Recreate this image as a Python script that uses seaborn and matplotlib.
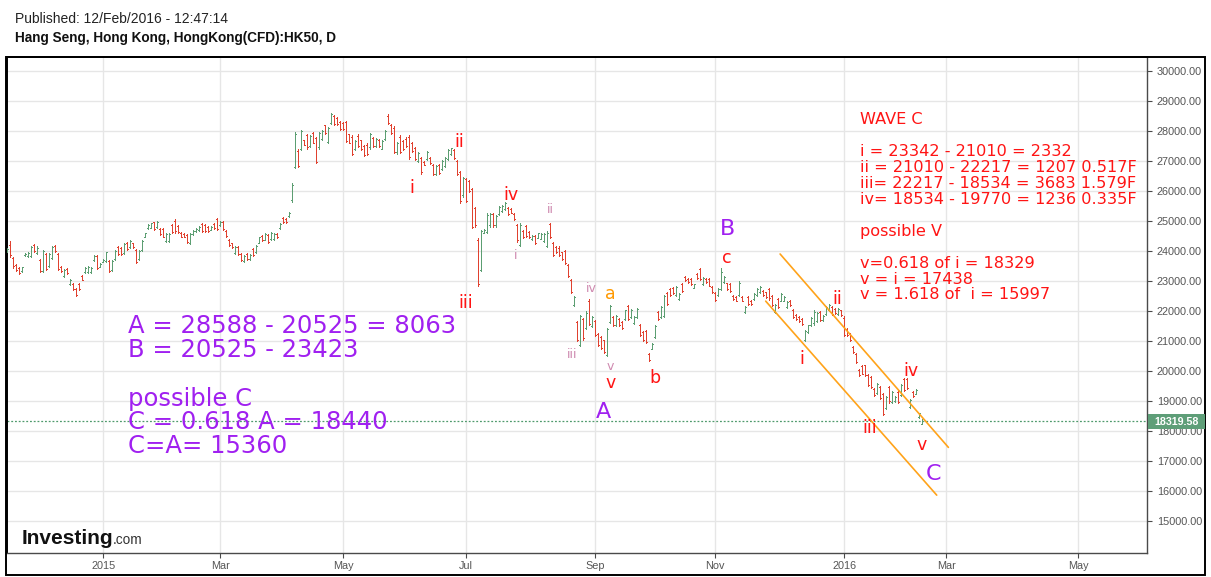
import numpy as np
import pandas as pd
import matplotlib
matplotlib.use("Agg")
import matplotlib.pyplot as plt
import seaborn as sns
from matplotlib.patches import Rectangle

# ---------------- data (daily OHLC, HK50 CFD, Nov 2014 - 12 Feb 2016) ----------------
opens = [
    23980, 24200, 23750, 23520, 23440, 23320, 23850, 23830, 23820, 24180,
    23920, 23680, 23330, 23880, 23500, 23760, 24150, 23880, 23470, 23170,
    23390, 22890, 22890, 22720, 22890, 23170, 23280, 23300, 23290, 23690,
    23820, 23470, 23620, 23650, 23660, 23360, 23720, 24110, 24090, 23910,
    24270, 24130, 24240, 24020, 23720, 24030, 24470, 24740, 24770, 24940,
    24780, 24720, 24720, 24330, 24330, 24850, 25000, 24830, 24590, 24560,
    24520, 24250, 24540, 24650, 24680, 24880, 24850, 24800, 24700, 24900,
    25040, 24840, 24960, 24660, 24350, 24240, 23910, 24110, 23890, 23660,
    23890, 23710, 24050, 23950, 24270, 24490, 24370, 24520, 24390, 24380,
    24550, 24740, 25100, 25050, 25150, 25680, 26800, 27330, 27400, 27680,
    27860, 27490, 27920, 27750, 27440, 27730, 28170, 27620, 28260, 28480,
    28420, 28290, 28260, 28280, 27870, 27800, 27380, 27830, 27670, 27480,
    27530, 27440, 27750, 27490, 27700, 27400, 27710, 28500, 28180, 28100,
    27270, 27800, 27660, 27730, 27800, 27590, 27420, 26990, 27080, 26970,
    27040, 27100, 26870, 26550, 26870, 26710, 26820, 27040, 27210, 27340,
    26980, 26620, 25840, 26390, 26320, 26060, 25430, 24370, 23350, 24600,
    24620, 24840, 25210, 24840, 25220, 25320, 25380, 25430, 25390, 25220,
    24850, 24180, 24660, 24820, 24630, 24380, 24500, 24430, 24400, 24330,
    24150, 24890, 24260, 24110, 24100, 23940, 23990, 23530, 23010, 22180,
    21610, 20870, 21720, 21430, 22340, 21490, 21660, 21230, 21120, 21010,
    20540, 21630, 21780, 21510, 21730, 21620, 21730, 22160, 21790, 21600,
    21790, 21530, 21290, 21340, 20570, 20730, 21130, 21950, 21790, 21830,
    22580, 22720, 22760, 22510, 22390, 22890, 23130, 23060, 23060, 22770,
    23220, 23380, 22900, 23060, 23060, 22800, 22580, 22530, 22740, 22970,
    22910, 22890, 22500, 22450, 22520, 22470, 21960, 22450, 22340, 22400,
    22530, 22610, 22670, 22610, 22710, 22500, 21960, 22390, 22340, 22330,
    22110, 22340, 22030, 21870, 21780, 21730, 21030, 21290, 21510, 21580,
    21650, 21950, 21680, 21900, 22010, 22120, 22060, 21900, 22010, 21770,
    21400, 21230, 20790, 20550, 20020, 20150, 20180, 19850, 19790, 19410,
    19250, 19460, 19230, 18760, 19450, 18970, 18980, 19300, 19190, 19730,
    19740, 18800, 19300, 19240, 18460, 18240,
]
highs = [
    24080, 24330, 23780, 23550, 23470, 23470, 23920, 23940, 24160, 24210,
    24140, 23720, 24030, 23920, 23920, 24170, 24180, 23920, 23500, 23400,
    23420, 23050, 22920, 22750, 22920, 23200, 23470, 23480, 23470, 23840,
    23860, 23580, 23720, 23970, 23690, 23690, 24030, 24140, 24120, 24250,
    24300, 24340, 24270, 24050, 24030, 24360, 24600, 24880, 24930, 24970,
    24990, 24750, 24750, 24600, 24580, 24880, 25040, 24860, 24610, 24580,
    24550, 24600, 24690, 24750, 24820, 24910, 24880, 24820, 24820, 24930,
    25080, 24990, 24990, 24690, 24380, 24270, 24160, 24140, 23920, 23860,
    23920, 23880, 24080, 24180, 24470, 24520, 24580, 24550, 24610, 24600,
    24580, 24910, 25130, 25080, 25280, 26240, 27950, 27370, 28030, 27700,
    27900, 27840, 27950, 27790, 27950, 28030, 28200, 28120, 28590, 28510,
    28450, 28320, 28290, 28310, 27900, 27840, 27680, 27870, 27700, 27510,
    27570, 27930, 27790, 27750, 27730, 27700, 28010, 28540, 28210, 28140,
    27620, 27840, 27700, 27770, 27840, 27620, 27460, 27290, 27120, 26990,
    27320, 27120, 26900, 26850, 26900, 27010, 27120, 27370, 27430, 27370,
    27010, 26660, 26460, 26430, 26350, 26100, 25470, 24410, 24690, 24710,
    25240, 25270, 25240, 25190, 25490, 25520, 25630, 25470, 25410, 25240,
    24890, 24910, 24690, 24860, 24660, 24530, 24530, 24600, 24580, 24580,
    24640, 24930, 24300, 24140, 24140, 23970, 24030, 23560, 23050, 22500,
    21650, 21870, 21760, 21980, 22390, 21810, 21700, 21260, 21150, 21040,
    21430, 22200, 21810, 21870, 21760, 21650, 22040, 22200, 22060, 21810,
    22090, 21560, 21320, 21370, 20600, 20930, 21540, 21980, 22150, 22530,
    22610, 22750, 22790, 22810, 22590, 22920, 23160, 23090, 23090, 22900,
    23250, 23420, 23120, 23090, 23090, 22830, 22610, 22750, 23420, 23160,
    22940, 22920, 22530, 22480, 22980, 22500, 22150, 22480, 22370, 22590,
    22750, 22810, 22700, 22640, 22750, 22530, 22230, 22420, 22590, 22480,
    22310, 22370, 22060, 21900, 21810, 21760, 21370, 21540, 21790, 22010,
    21950, 21980, 21870, 22150, 22220, 22150, 22090, 22090, 22040, 21810,
    21430, 21260, 20820, 20580, 20050, 20180, 20210, 19880, 19820, 19440,
    19600, 19490, 19270, 19160, 19490, 19330, 19160, 19330, 19550, 19770,
    19770, 19050, 19330, 19380, 18610, 18390,
]
lows = [
    23950, 23780, 23440, 23330, 23220, 23300, 23830, 23800, 23780, 23970,
    23880, 23290, 23290, 23360, 23470, 23720, 23950, 23360, 23290, 23140,
    23220, 22870, 22700, 22500, 22700, 23010, 23250, 23260, 23270, 23670,
    23400, 23450, 23610, 23620, 23290, 23330, 23690, 23860, 23860, 23880,
    24030, 24100, 24080, 23580, 23690, 24000, 24450, 24720, 24750, 24690,
    24760, 24520, 24440, 24300, 24300, 24580, 24600, 24580, 24450, 24440,
    24250, 24210, 24520, 24630, 24660, 24630, 24630, 24630, 24690, 24710,
    24690, 24820, 24690, 24450, 24160, 24080, 23880, 23860, 23660, 23640,
    23690, 23690, 23810, 23920, 24250, 24330, 24340, 24270, 24360, 24350,
    24410, 24720, 24910, 24910, 25130, 25630, 26740, 26790, 27350, 27510,
    27400, 27460, 27570, 26930, 27400, 27700, 27900, 27590, 28230, 28180,
    28200, 28010, 28010, 27620, 27570, 27180, 27350, 27460, 27350, 27150,
    27180, 27400, 27460, 27460, 27460, 27370, 27680, 28210, 27900, 27260,
    27230, 27260, 27350, 27460, 27070, 27290, 27010, 26960, 26570, 26850,
    27010, 26900, 26520, 26520, 26570, 26680, 26790, 27010, 27180, 27070,
    26520, 25600, 25800, 25630, 25960, 24750, 24800, 22830, 23310, 24580,
    24580, 24800, 24800, 24800, 25190, 25300, 25350, 25190, 25240, 25020,
    24300, 24140, 24410, 24470, 24410, 24360, 24230, 24410, 24380, 24300,
    24120, 24410, 23810, 23920, 23810, 23700, 23560, 23120, 22590, 22150,
    20990, 20820, 21040, 21390, 21510, 21460, 21150, 20820, 20710, 20600,
    20490, 21590, 21480, 21480, 21480, 21390, 21700, 21700, 21760, 21570,
    21760, 21150, 20990, 20930, 20320, 20710, 21100, 21700, 21760, 21790,
    22200, 22500, 22570, 22480, 22370, 22640, 22980, 22920, 22870, 22750,
    23050, 23030, 22870, 22940, 22810, 22590, 22330, 22500, 22700, 22940,
    22700, 22640, 22370, 22310, 22480, 22310, 21930, 22200, 22200, 22370,
    22500, 22590, 22480, 22420, 22370, 22170, 21930, 22090, 22310, 22310,
    22090, 22150, 21760, 21700, 21620, 21540, 20990, 21260, 21480, 21540,
    21620, 21650, 21650, 21870, 21980, 21870, 21900, 21870, 21840, 21150,
    21150, 20990, 20580, 20270, 19820, 19880, 19820, 19490, 19440, 19160,
    19220, 19050, 18530, 18720, 18940, 18940, 18960, 18940, 19160, 19330,
    19400, 18770, 19140, 19220, 18440, 18220,
]
closes = [
    24050, 23850, 23480, 23360, 23260, 23450, 23900, 23910, 24120, 24000,
    24100, 23330, 23980, 23400, 23880, 24130, 23980, 23400, 23320, 23370,
    23250, 23020, 22730, 22530, 22730, 23040, 23440, 23450, 23440, 23810,
    23430, 23560, 23700, 23940, 23320, 23660, 24000, 23890, 23890, 24220,
    24060, 24310, 24110, 23620, 24000, 24330, 24580, 24860, 24910, 24720,
    24970, 24550, 24470, 24570, 24550, 24610, 24640, 24610, 24470, 24460,
    24280, 24570, 24670, 24730, 24800, 24660, 24660, 24650, 24800, 24740,
    24720, 24970, 24720, 24480, 24190, 24110, 24130, 23890, 23690, 23830,
    23720, 23860, 23840, 24150, 24440, 24360, 24550, 24300, 24580, 24570,
    24440, 24890, 24940, 24940, 25260, 26200, 27900, 26830, 27980, 27530,
    27440, 27810, 27600, 26970, 27920, 28000, 27930, 28090, 28560, 28210,
    28220, 28040, 28040, 27660, 27600, 27220, 27640, 27490, 27380, 27180,
    27210, 27890, 27490, 27720, 27490, 27660, 27980, 28240, 27930, 27300,
    27590, 27290, 27380, 27490, 27110, 27320, 27050, 27260, 26610, 26870,
    27290, 26930, 26550, 26820, 26600, 26980, 27090, 27340, 27410, 27100,
    26550, 25640, 26420, 25670, 26000, 24790, 24840, 22880, 24650, 24690,
    25200, 25230, 24840, 25150, 25460, 25500, 25600, 25220, 25260, 25050,
    24340, 24870, 24440, 24500, 24440, 24500, 24260, 24580, 24560, 24550,
    24600, 24450, 23850, 23950, 23840, 23730, 23600, 23150, 22630, 22470,
    21030, 21820, 21080, 21940, 21550, 21780, 21190, 20860, 20750, 20640,
    21380, 22160, 21510, 21840, 21510, 21420, 22010, 21740, 22030, 21780,
    22060, 21190, 21020, 20970, 20350, 20900, 21500, 21730, 22120, 22490,
    22230, 22530, 22600, 22780, 22560, 22670, 23010, 22950, 22900, 22880,
    23080, 23070, 23090, 22970, 22840, 22620, 22360, 22720, 23300, 23130,
    22730, 22670, 22400, 22340, 22940, 22340, 22120, 22230, 22230, 22560,
    22720, 22780, 22510, 22450, 22410, 22200, 22200, 22120, 22560, 22450,
    22280, 22180, 21790, 21730, 21650, 21570, 21330, 21510, 21760, 21970,
    21920, 21680, 21840, 22120, 22190, 21900, 21930, 22060, 21870, 21190,
    21180, 21020, 20610, 20300, 19850, 19910, 19860, 19530, 19470, 19190,
    19570, 19080, 18570, 19120, 18980, 19300, 19140, 18970, 19520, 19360,
    19430, 19020, 19170, 19350, 18590, 18319.58,
]

x_tick_labels = ["2015", "Mar", "May", "Jul", "Sep", "Nov", "2016", "Mar", "May"]
x_tick_bars = [32, 71, 112, 153, 196, 236, 279, 313, 357]
y_ticks = list(range(15000, 30001, 1000))

# Elliott channel (bar index, price)
chan_upper_x = [257.6, 313.7]
chan_upper_y = [23890, 17450]
chan_lower_x = [252.8, 309.8]
chan_lower_y = [22320, 15860]

left_notes = ["A = 28588 - 20525 = 8063", "B = 20525 - 23423",
              "possible C", "C = 0.618 A = 18440", "C=A= 15360"]
right_notes = ["WAVE C",
               "i = 23342 - 21010 = 2332",
               "ii = 21010 - 22217 = 1207 0.517F",
               "iii= 22217 - 18534 = 3683 1.579F",
               "iv= 18534 - 19770 = 1236 0.335F",
               "possible V",
               "v=0.618 of i = 18329",
               "v = i = 17438",
               "v = 1.618 of  i = 15997"]

# ---------------- style ----------------
sns.set_theme(style="white")
plt.rcParams["font.family"] = ["DejaVu Sans"]

W, H = 1211, 577
GREEN = "#5c9e72"
RED_BAR = "#e0412f"
RED = "#ff1414"
PURPLE = "#a020f0"
MAUVE = "#cf8ab0"
ORANGE = "#ff9900"
GRID = "#e6e6e6"
AX = "#4a4a4a"
LAB = "#555555"
SANS = ["Liberation Sans", "DejaVu Sans"]

fig = plt.figure(figsize=(W / 100, H / 100), dpi=100)
fig.patch.set_facecolor("white")
ax = fig.add_axes([6.5 / W, 1 - 553 / H, (1147 - 6.5) / W, (553 - 56.7) / H])
ax.set_facecolor("white")

df = pd.DataFrame({"open": opens, "high": highs, "low": lows, "close": closes})
df["bar"] = np.arange(len(df))
colors = np.where(df["close"] >= df["open"], GREEN, RED_BAR)

LW = 0.72
ax.vlines(df["bar"], df["low"], df["high"], colors=colors, lw=LW,
          antialiased=False, zorder=3)
ax.hlines(df["open"], df["bar"] - 0.34, df["bar"], colors=colors, lw=LW,
          antialiased=False, zorder=3)
ax.hlines(df["close"], df["bar"], df["bar"] + 0.34, colors=colors, lw=LW,
          antialiased=False, zorder=3)

# channel lines
sns.lineplot(x=chan_upper_x, y=chan_upper_y, ax=ax, color="#ffa31a", lw=1.2, zorder=4)
sns.lineplot(x=chan_lower_x, y=chan_lower_y, ax=ax, color="#ffa31a", lw=1.2, zorder=4)

last = closes[-1]
ax.axhline(last, color="#4f9a6c", lw=0.9, ls=(0, (1.5, 1.5)), zorder=2)

ax.set_xlim(-0.27, 379.9)
ax.set_ylim(13933, 30460)
ax.set_xticks(x_tick_bars)
ax.set_xticklabels(x_tick_labels)
ax.set_yticks(y_ticks)
ax.set_yticklabels([f"{v:.2f}" for v in y_ticks])
ax.yaxis.tick_right()
ax.grid(True, color=GRID, lw=1.0, zorder=0)
ax.set_axisbelow(True)
ax.tick_params(axis="y", which="major", right=True, left=False, length=3.5, width=0.8,
               color=AX, pad=3.5, labelsize=7.8, labelcolor=LAB)
ax.tick_params(axis="x", which="major", bottom=True, length=3.5, width=0.8,
               color=AX, pad=2.0, labelsize=7.8, labelcolor=LAB)
for lab in ax.get_xticklabels() + ax.get_yticklabels():
    lab.set_family(SANS)
ax.set_xlabel("")
ax.set_ylabel("")
for side in ["left", "top"]:
    ax.spines[side].set_color("black")
    ax.spines[side].set_linewidth(1.4)
for side in ["right", "bottom"]:
    ax.spines[side].set_color(AX)
    ax.spines[side].set_linewidth(1.0)

# outer frame
fig.patches.append(Rectangle((6 / W, 1 - 575 / H), (1205 - 6) / W, (575 - 57) / H,
                             transform=fig.transFigure, fill=False,
                             edgecolor="black", lw=1.4, zorder=10))
# last price tag
fig.patches.append(Rectangle((1148 / W, 1 - 429 / H), 57 / W, 15 / H,
                             transform=fig.transFigure, facecolor="#5e9e78",
                             edgecolor="none", zorder=10))


def ftext(x, y, s, **kw):
    return fig.text(x / W, 1 - y / H, s, **kw)


ftext(1176.5, 421.8, f"{last:.2f}", ha="center", va="center", color="white",
      fontsize=7.7, fontweight="bold", family=SANS, zorder=11)

# header
ftext(15, 22.7, "Published: 12/Feb/2016 - 12:47:14", fontsize=10, color="#222222",
      family=SANS, va="baseline")
ftext(15, 42.3, "Hang Seng, Hong Kong, HongKong(CFD):HK50, D", fontsize=9.8,
      fontweight="bold", color="#111111", family=SANS, va="baseline")

# logo
ftext(22, 544, "Investing", fontsize=15, fontweight="bold", color="#111111",
      family=SANS, va="baseline")
ftext(112.5, 544, ".com", fontsize=9.8, color="#333333", family=SANS, va="baseline")

# purple notes (left)
for s, yb in zip(left_notes, [333.3, 357.3, 405.7, 429.3, 453.3]):
    ftext(128, yb, s, fontsize=17.5, color=PURPLE, va="baseline", ha="left")

# red notes (right)
for s, yb in zip(right_notes, [124, 156, 172, 187.7, 203.7, 236, 268.3, 284.3, 299.3]):
    ftext(860, yb, s, fontsize=11.6, color=RED, va="baseline", ha="left")

# wave labels: (x, baseline, text, colour, size)
wave_labels = [
    (411.7, 192.7, "i", RED, 12.5),
    (459.0, 146.7, "ii", RED, 12.5),
    (466.0, 308.5, "iii", RED, 12.5),
    (510.5, 200.0, "iv", RED, 12.5),
    (515.3, 259.3, "i", MAUVE, 9),
    (550.0, 213.3, "ii", MAUVE, 9),
    (572.5, 358.3, "iii", MAUVE, 9),
    (591.7, 291.7, "iv", MAUVE, 9),
    (610.5, 370.0, "v", MAUVE, 9),
    (610.0, 299.3, "a", ORANGE, 12.5),
    (610.3, 388.3, "v", RED, 12.5),
    (655.0, 382.7, "b", RED, 12.5),
    (603.0, 418.0, "A", PURPLE, 16),
    (727.0, 235.0, "B", PURPLE, 16),
    (726.7, 263.3, "c", RED, 12.5),
    (801.7, 364.0, "i", RED, 12.5),
    (837.5, 304.0, "ii", RED, 12.5),
    (870.0, 432.7, "iii", RED, 12.5),
    (910.7, 376.0, "iv", RED, 12.5),
    (921.7, 450.0, "v", RED, 12.5),
    (933.0, 480.0, "C", PURPLE, 16),
]
for x, yb, s, c, fs in wave_labels:
    ftext(x, yb, s, color=c, fontsize=fs, ha="center", va="baseline", zorder=12)

fig.savefig("out.png", dpi=100, facecolor="white")
